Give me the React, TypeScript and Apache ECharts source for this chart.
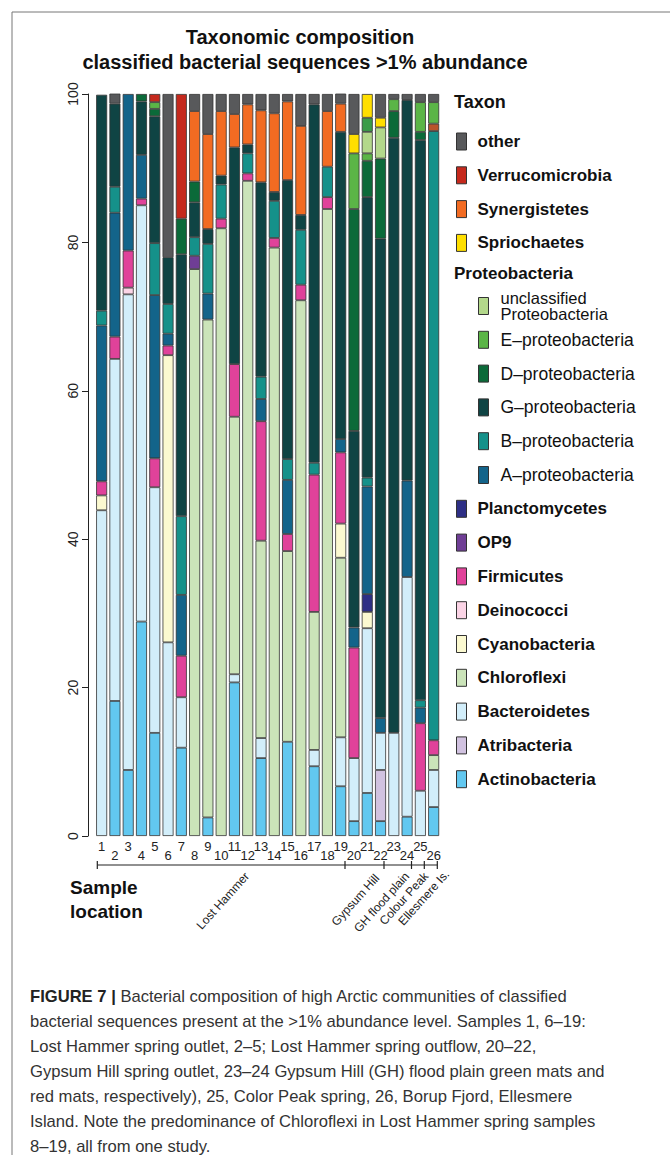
import React, { useEffect, useRef } from "react";
import * as echarts from "echarts";

// ---- data (percent of classified sequences) ----
const samples = ["1","2","3","4","5","6","7","8","9","10","11","12","13","14","15","16","17","18","19","20","21","22","23","24","25","26"];
const yTicks = [0, 20, 40, 60, 80, 100];

const other =            [0, 1.35, 0, 0, 0, 22, 0, 2.3, 5.4, 2.3, 2.7, 1.4, 2.2, 2.6, 1.0, 4.3, 1.4, 2.3, 1.35, 5.4, 0, 3.2, 0.7, 0.8, 1.1, 1.1];
const verrucomicrobia =  [0, 0, 0, 0, 1.1, 0, 16.8, 0, 0, 0, 0, 0, 0, 0, 0, 0, 0, 0, 0, 0, 0, 0, 0, 0, 0, 0];
const synergistetes =    [0, 0, 0, 0, 0, 0, 0, 9.5, 12.8, 8.7, 4.5, 5.4, 9.7, 10.6, 10.6, 12.0, 0, 7.5, 3.8, 0, 0, 0, 0, 0, 0, 0];
const spriochaetes =     [0, 0, 0, 0, 0, 0, 0, 0, 0, 0, 0, 0, 0, 0, 0, 0, 0, 0, 0, 2.6, 3.2, 1.3, 0, 0, 0, 0];
const proteoUnlisted =   [0, 0, 0, 0, 0, 0, 0, 0, 0, 0, 0, 0, 0, 0, 0, 0, 0, 0, 0, 0, 1.9, 0, 0, 0, 0, 0];
const unclassProteo =    [0, 0, 0, 0, 0, 0, 0, 0, 0, 0, 0, 0, 0, 0, 0, 0, 0, 0, 0, 0, 2.9, 4.2, 0, 0, 0, 0];
const eProteo =          [0, 0, 0, 0, 0.9, 0, 0, 0, 0, 0, 0, 0, 0, 0, 0, 0, 0, 0, 0, 7.5, 1.0, 0, 1.6, 0, 4.0, 2.9];
const redUnlisted =      [0, 0, 0, 0, 0, 0, 0, 0, 0, 0, 0, 0, 0, 0, 0, 0, 0, 0, 0, 0, 0, 0, 0, 0, 0, 1.0];
const dProteo =          [0, 0, 0, 1.0, 1.0, 0, 4.8, 2.8, 0, 0, 0, 0, 0, 0, 0, 0, 0, 0, 0, 29.9, 4.9, 10.8, 3.6, 0, 1.1, 0];
const gProteo =          [29.1, 11.2, 0, 7.2, 17.1, 6.3, 35.3, 4.7, 2.0, 1.2, 29.2, 1.2, 26.2, 1.2, 37.6, 2.0, 48.3, 0, 41.4, 26.5, 37.8, 64.6, 80.2, 51.3, 75.5, 0];
const bProteo =          [2.0, 3.5, 0, 0, 7.0, 4.0, 10.6, 2.5, 6.7, 4.6, 0, 2.7, 3.0, 5.0, 2.8, 7.4, 1.6, 4.1, 0, 0, 1.2, 0, 0, 0, 1.0, 82.1];
const aProteo =          [21.0, 16.7, 21.1, 5.9, 22.0, 1.6, 8.2, 0, 3.5, 0, 0, 0, 3.0, 0, 7.3, 0, 0, 0, 1.8, 2.7, 14.5, 2.0, 0, 13.0, 2.1, 0];
const planctomycetes =   [0, 0, 0, 0, 0, 0, 0, 0, 0, 0, 0, 0, 0, 0, 0, 0, 0, 0, 0, 0, 2.4, 0, 0, 0, 0, 0];
const op9 =              [0, 0, 0, 0, 0, 0, 0, 1.8, 0, 0, 0, 0, 0, 0, 0, 0, 0, 0, 0, 0, 0, 0, 0, 0, 0, 0];
const firmicutes =       [1.9, 3.0, 5.0, 0.9, 3.9, 1.3, 5.6, 0, 0, 1.3, 7.1, 1.0, 16.1, 1.3, 2.3, 2.1, 18.5, 1.6, 9.6, 14.9, 0, 0, 0, 0, 9.1, 2.0];
const deinococci =       [0, 0, 0.9, 0, 0, 0, 0, 0, 0, 0, 0, 0, 0, 0, 0, 0, 0, 0, 0, 0, 0, 0, 0, 0, 0, 0];
const cyanobacteria =    [2.0, 0, 0, 0, 0, 38.7, 0, 0, 0, 0, 0, 0, 0, 0, 0, 0, 0, 0, 4.6, 0, 2.2, 0, 0, 0, 0, 0];
const chloroflexi =      [0, 0, 0, 0, 0, 0, 0, 76.4, 67.1, 81.9, 34.7, 88.3, 26.6, 79.3, 25.7, 72.2, 18.6, 84.5, 24.2, 0, 0, 0, 0, 0, 0, 2.0];
const bacteroidetes =    [43.9, 46.1, 64.1, 56.1, 33.1, 26.1, 6.8, 0, 0, 0, 1.1, 0, 2.7, 0, 0, 0, 2.2, 0, 6.6, 8.5, 22.2, 5.0, 13.9, 32.3, 6.1, 5.0];
const atribacteria =     [0, 0, 0, 0, 0, 0, 0, 0, 0, 0, 0, 0, 0, 0, 0, 0, 0, 0, 0, 0, 0, 6.9, 0, 0, 0, 0];
const actinobacteria =   [0, 18.2, 8.9, 28.9, 13.9, 0, 11.9, 0, 2.5, 0, 20.7, 0, 10.5, 0, 12.7, 0, 9.4, 0, 6.7, 2.0, 5.8, 2.0, 0, 2.6, 0, 3.9];

const groupLabels = ["Lost Hammer", "Gypsum Hill", "GH flood plain", "Colour Peak", "Ellesmere Is."];

const titleLines = ["Taxonomic composition", "classified bacterial sequences >1% abundance"];

const captionLines = [
  "{b|FIGURE 7 |} Bacterial composition of high Arctic communities of classified",
  "bacterial sequences present at the >1% abundance level. Samples 1, 6–19:",
  "Lost Hammer spring outlet, 2–5; Lost Hammer spring outflow, 20–22,",
  "Gypsum Hill spring outlet, 23–24 Gypsum Hill (GH) flood plain green mats and",
  "red mats, respectively), 25, Color Peak spring, 26, Borup Fjord, Ellesmere",
  "Island. Note the predominance of Chloroflexi in Lost Hammer spring samples",
  "8–19, all from one study.",
];

// stacking order: bottom -> top
const taxa = [
  { name: "Actinobacteria", data: actinobacteria, color: "#62c8f0" },
  { name: "Atribacteria", data: atribacteria, color: "#d1c2e0" },
  { name: "Bacteroidetes", data: bacteroidetes, color: "#d2eefa" },
  { name: "Chloroflexi", data: chloroflexi, color: "#cbe4b9" },
  { name: "Cyanobacteria", data: cyanobacteria, color: "#fbf9d0" },
  { name: "Deinococci", data: deinococci, color: "#fbd4e6" },
  { name: "Firmicutes", data: firmicutes, color: "#e0429a" },
  { name: "OP9", data: op9, color: "#6f3e95" },
  { name: "Planctomycetes", data: planctomycetes, color: "#2e2f85" },
  { name: "A–proteobacteria", data: aProteo, color: "#13648a" },
  { name: "B–proteobacteria", data: bProteo, color: "#15918a" },
  { name: "G–proteobacteria", data: gProteo, color: "#0f4444" },
  { name: "D–proteobacteria", data: dProteo, color: "#0b6a39" },
  { name: "unlisted (red)", data: redUnlisted, color: "#b9542a" },
  { name: "E–proteobacteria", data: eProteo, color: "#5bb547" },
  { name: "unclassified Proteobacteria", data: unclassProteo, color: "#b3d88b" },
  { name: "unlisted (green)", data: proteoUnlisted, color: "#3a9c48" },
  { name: "Spriochaetes", data: spriochaetes, color: "#ffdf00" },
  { name: "Synergistetes", data: synergistetes, color: "#f26b22" },
  { name: "Verrucomicrobia", data: verrucomicrobia, color: "#c5291d" },
  { name: "other", data: other, color: "#58595b" },
];

const FONT = "'Liberation Sans', Arial, Helvetica, sans-serif";

export default function App() {
  const ref = useRef<HTMLDivElement>(null);

  useEffect(() => {
    document.body.style.margin = "0";
    document.body.style.overflow = "hidden";
    const chart = echarts.init(ref.current!, null, { renderer: "svg" });

    const series = taxa.map((t) => ({
      name: t.name,
      type: "bar",
      stack: "total",
      barWidth: 11,
      data: t.data.map((v) => (v > 0 ? v : "-")),
      itemStyle: { color: t.color, borderColor: "#333", borderWidth: 0.8 },
      emphasis: { disabled: true },
    }));

    const legendCommon = {
      orient: "vertical",
      icon: "rect",
      itemWidth: 10,
      itemHeight: 17,
      itemGap: 15.8,
      padding: 0,
      selectedMode: false,
      itemStyle: { borderColor: "#333", borderWidth: 1 },
    };
    const boldText = {
      fontFamily: FONT,
      fontWeight: "bold",
      fontSize: 17,
      color: "#111",
      lineHeight: 17,
      padding: [0, 0, 0, 6],
    };
    const normalText = {
      fontFamily: FONT,
      fontWeight: "normal",
      fontSize: 17.5,
      color: "#111",
      lineHeight: 17,
      padding: [0, 0, 0, 7],
    };

    // annotation geometry for the sample-location bracket
    const bracketY = 865;
    const bracketTicks = [97.3, 345, 384, 411.5, 424.3, 437.3];
    const labelAnchors = [
      [247, 874],
      [377, 876],
      [407, 874],
      [426, 874],
      [447, 872],
    ];
    const rot = (48 * Math.PI) / 180;

    const graphic: any[] = [
      // figure frame
      { type: "line", shape: { x1: 12, y1: 12, x2: 670, y2: 12 }, style: { stroke: "#777", lineWidth: 1 } },
      { type: "line", shape: { x1: 12, y1: 12, x2: 12, y2: 1155 }, style: { stroke: "#777", lineWidth: 1 } },
      // title
      {
        type: "text", x: 300, y: 37,
        style: { text: titleLines[0], font: `bold 20px ${FONT}`, fill: "#111", align: "center", verticalAlign: "middle" },
      },
      {
        type: "text", x: 305, y: 62,
        style: { text: titleLines[1], font: `bold 20px ${FONT}`, fill: "#111", align: "center", verticalAlign: "middle" },
      },
      // legend headers
      {
        type: "text", x: 454, y: 102,
        style: { text: "Taxon", font: `bold 18px ${FONT}`, fill: "#111", align: "left", verticalAlign: "middle" },
      },
      {
        type: "text", x: 454, y: 273,
        style: { text: "Proteobacteria", font: `bold 17px ${FONT}`, fill: "#111", align: "left", verticalAlign: "middle" },
      },
      // sample location
      {
        type: "text", x: 70, y: 887,
        style: { text: "Sample", font: `bold 19px ${FONT}`, fill: "#111", align: "left", verticalAlign: "middle" },
      },
      {
        type: "text", x: 70, y: 911,
        style: { text: "location", font: `bold 19px ${FONT}`, fill: "#111", align: "left", verticalAlign: "middle" },
      },
      // bracket
      {
        type: "line",
        shape: { x1: bracketTicks[0], y1: bracketY, x2: bracketTicks[bracketTicks.length - 1], y2: bracketY },
        style: { stroke: "#222", lineWidth: 1.2 },
      },
      ...bracketTicks.map((x) => ({
        type: "line",
        shape: { x1: x, y1: bracketY - 4, x2: x, y2: bracketY + 4 },
        style: { stroke: "#222", lineWidth: 1.2 },
      })),
      ...groupLabels.map((t, i) => ({
        type: "text",
        x: labelAnchors[i][0],
        y: labelAnchors[i][1],
        rotation: rot,
        style: { text: t, font: `12px ${FONT}`, fill: "#222", align: "right", verticalAlign: "middle" },
      })),
      // caption
      ...captionLines.map((line, i) => ({
        type: "text",
        x: 30,
        y: 996 + i * 25,
        style: {
          text: line,
          font: `16.6px ${FONT}`,
          fill: "#333",
          align: "left",
          verticalAlign: "middle",
          rich: { b: { fontWeight: "bold", fontSize: 16.6, fontFamily: FONT, fill: "#222" } },
        },
      })),
    ];

    chart.setOption({
      animation: false,
      backgroundColor: "#fff",
      grid: { left: 95, top: 94, width: 345.3, height: 742, containLabel: false, outerBoundsMode: "none" },
      xAxis: {
        type: "category",
        data: samples,
        axisLine: { show: false },
        axisTick: { show: false },
        axisLabel: {
          interval: 0,
          margin: 4,
          fontFamily: FONT,
          fontSize: 13,
          color: "#222",
          formatter: (v: string, idx: number) => (idx % 2 === 0 ? `{o|${v}}` : `{e|${v}}`),
          rich: {
            o: { fontFamily: FONT, fontSize: 13, color: "#222" },
            e: { fontFamily: FONT, fontSize: 13, color: "#222", padding: [9, 0, 0, 0] },
          },
        },
      },
      yAxis: {
        type: "value",
        min: yTicks[0],
        max: yTicks[yTicks.length - 1],
        interval: 20,
        offset: 7,
        axisLine: { show: true, lineStyle: { color: "#222", width: 1 } },
        axisTick: { show: true, length: 6, lineStyle: { color: "#222", width: 1 } },
        splitLine: { show: false },
        axisLabel: { rotate: 90, margin: 8, fontFamily: FONT, fontSize: 14, color: "#222" },
      },
      legend: [
        {
          ...legendCommon,
          left: 456, top: 132.5,
          data: ["other", "Verrucomicrobia", "Synergistetes", "Spriochaetes"],
          textStyle: boldText,
        },
        {
          ...legendCommon,
          left: 478, top: 289.5,
          data: ["unclassified Proteobacteria"],
          formatter: () => "unclassified\nProteobacteria",
          textStyle: { ...normalText, fontSize: 16.5, lineHeight: 16 },
        },
        {
          ...legendCommon,
          left: 478, top: 330.8,
          data: ["E–proteobacteria", "D–proteobacteria", "G–proteobacteria", "B–proteobacteria", "A–proteobacteria"],
          textStyle: normalText,
        },
        {
          ...legendCommon,
          left: 456, top: 499.8,
          data: ["Planctomycetes", "OP9", "Firmicutes", "Deinococci", "Cyanobacteria", "Chloroflexi", "Bacteroidetes", "Atribacteria", "Actinobacteria"],
          textStyle: boldText,
        },
      ],
      series,
      graphic,
    });

    return () => chart.dispose();
  }, []);

  return <div ref={ref} style={{ width: 670, height: 1155 }} />;
}
